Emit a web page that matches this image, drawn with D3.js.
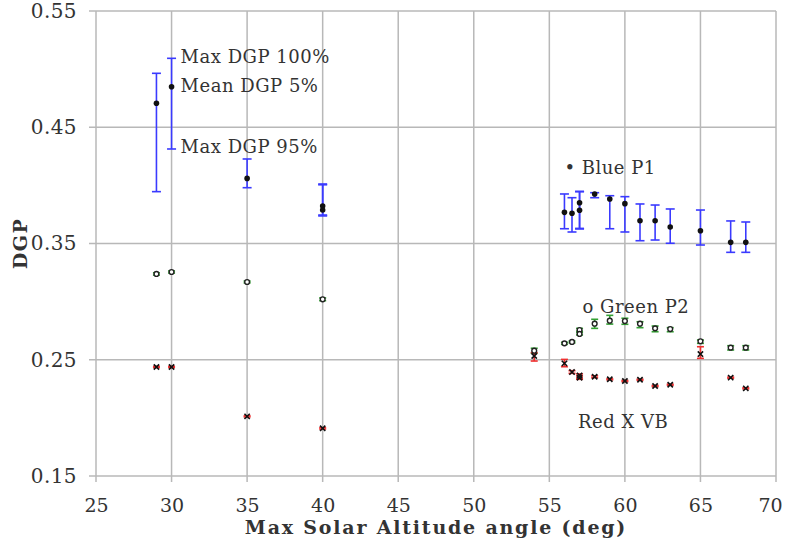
<!DOCTYPE html>
<html>
<head>
<meta charset="utf-8">
<script src="https://cdn.jsdelivr.net/npm/d3@7"></script>
<style>
  html, body { margin: 0; padding: 0; background: #fff; }
  svg { display: block; }
  text { font-family: "DejaVu Serif", serif; fill: #333; }
</style>
</head>
<body>
<svg id="chart" width="788" height="546"></svg>
<script>
// ---- data ----
const xTicks = [25, 30, 35, 40, 45, 50, 55, 60, 65, 70];
const yTicks = [0.15, 0.25, 0.35, 0.45, 0.55];

const blueX    = [29, 30, 35, 40, 40, 56, 56.5, 57, 57, 58, 59, 60, 61, 62, 63, 65, 67, 68];
const blueMean = [0.4706, 0.4849, 0.406, 0.3823, 0.3788, 0.3768, 0.376, 0.3851, 0.3786, 0.3926, 0.3883, 0.3843, 0.3696, 0.3696, 0.3642, 0.361, 0.351, 0.351];
const blueHi   = [0.4964, 0.5093, 0.4227, 0.4012, 0.4005, 0.3926, 0.3894, 0.3949, 0.3945, 0.3937, 0.3911, 0.3903, 0.384, 0.3831, 0.3797, 0.3788, 0.3694, 0.3685];
const blueLo   = [0.3946, 0.4313, 0.398, 0.3737, 0.3745, 0.3627, 0.3599, 0.3625, 0.3630, 0.3894, 0.3627, 0.3599, 0.3524, 0.353, 0.3502, 0.3487, 0.3424, 0.3424];

const greenX    = [29, 30, 35, 40, 54, 56, 56.5, 57, 57, 58, 59, 60, 61, 62, 63, 65, 67, 68];
const greenMean = [0.3238, 0.3255, 0.3169, 0.302, 0.2578, 0.2641, 0.2653, 0.2756, 0.2722, 0.281, 0.2836, 0.2833, 0.281, 0.277, 0.2764, 0.2659, 0.2604, 0.2604];
const greenHi   = [0.3248, 0.3264, 0.3177, 0.3032, 0.2599, 0.2650, 0.2661, 0.277, 0.2735, 0.2848, 0.2882, 0.2857, 0.2827, 0.279, 0.2776, 0.267, 0.2621, 0.2621];
const greenLo   = [0.3228, 0.3246, 0.3161, 0.3008, 0.2556, 0.2632, 0.2645, 0.2745, 0.2713, 0.277, 0.2807, 0.2805, 0.2776, 0.2741, 0.2741, 0.2641, 0.2584, 0.2584];

const redX    = [29, 30, 35, 40, 54, 56, 56.5, 57, 57, 58, 59, 60, 61, 62, 63, 65, 67, 68];
const redMean = [0.2438, 0.2438, 0.2013, 0.191, 0.2532, 0.2469, 0.2394, 0.2365, 0.2345, 0.2354, 0.2332, 0.2317, 0.2328, 0.2274, 0.2285, 0.2549, 0.2346, 0.2254];
const redHi   = [0.2443, 0.2443, 0.2018, 0.1916, 0.2561, 0.2503, 0.2406, 0.2378, 0.2360, 0.2362, 0.2337, 0.2322, 0.2333, 0.2279, 0.229, 0.2612, 0.2351, 0.2259];
const redLo   = [0.2433, 0.2433, 0.2008, 0.1904, 0.2489, 0.244, 0.2383, 0.2340, 0.2332, 0.2346, 0.2327, 0.2312, 0.2323, 0.2269, 0.228, 0.2512, 0.2341, 0.2249];

const annotations = [
  { text: "Max DGP 100%", x: 30.6, y: 0.5105 },
  { text: "Mean DGP 5%", x: 30.6, y: 0.4855 },
  { text: "Max DGP 95%", x: 30.6, y: 0.4330 },
  { text: "• Blue P1", x: 56.0, y: 0.4150 },
  { text: "o Green P2", x: 57.2, y: 0.2958 },
  { text: "Red X VB", x: 56.9, y: 0.1965 }
];

// ---- layout ----
const svg = d3.select("#chart");
const mLeft = 96, mRight = 776, mTop = 11, mBottom = 476;
const x = d3.scaleLinear().domain([25, 70]).range([mLeft, mRight]);
const y = d3.scaleLinear().domain([0.15, 0.55]).range([mBottom, mTop]);
const gridColor = "#b8b8b8";

// grid
svg.append("g").selectAll("line").data(xTicks).join("line")
  .attr("x1", d => x(d)).attr("x2", d => x(d))
  .attr("y1", mTop).attr("y2", mBottom + 6)
  .attr("stroke", gridColor).attr("stroke-width", 1.5);
svg.append("g").selectAll("line").data(yTicks).join("line")
  .attr("x1", mLeft - 7).attr("x2", mRight)
  .attr("y1", d => y(d)).attr("y2", d => y(d))
  .attr("stroke", gridColor).attr("stroke-width", 1.5);

// axes (labels only, using d3 axes)
const xAxis = d3.axisBottom(x).tickValues(xTicks).tickSize(0).tickPadding(23).tickFormat(d3.format("d"));
const yAxis = d3.axisLeft(y).tickValues(yTicks).tickSize(0).tickPadding(19).tickFormat(d3.format(".2f"));
const gx = svg.append("g").attr("transform", `translate(0,${mBottom})`).call(xAxis);
const gy = svg.append("g").attr("transform", `translate(${mLeft},0)`).call(yAxis);
[gx, gy].forEach(g => {
  g.select(".domain").remove();
  g.selectAll("text").attr("font-family", "DejaVu Serif").attr("font-size", 20)
    .attr("letter-spacing", 0.4).attr("fill", "#333");
});
gx.selectAll("text").attr("font-size", 19).attr("letter-spacing", 0)
  .attr("dx", d => d === 70 ? -6 : 0);

// axis titles
svg.append("text").attr("x", 436).attr("y", 534).attr("text-anchor", "middle")
  .attr("font-size", 19).attr("font-weight", "bold").attr("letter-spacing", 1.8).attr("fill", "#111")
  .text("Max Solar Altitude angle (deg)");
svg.append("text").attr("transform", `translate(27,${y(0.35)}) rotate(-90)`)
  .attr("text-anchor", "middle").attr("font-size", 19).attr("font-weight", "bold").attr("letter-spacing", 1.5).attr("fill", "#111")
  .text("DGP");

// error bars helper
function errorBars(xs, hi, lo, color, capW, sw) {
  const g = svg.append("g").attr("stroke", color).attr("stroke-width", sw);
  const idx = d3.range(xs.length);
  g.selectAll("line.v").data(idx).join("line").attr("class", "v")
    .attr("x1", i => x(xs[i])).attr("x2", i => x(xs[i]))
    .attr("y1", i => y(hi[i])).attr("y2", i => y(lo[i]));
  g.selectAll("line.t").data(idx).join("line").attr("class", "t")
    .attr("x1", i => x(xs[i]) - capW).attr("x2", i => x(xs[i]) + capW)
    .attr("y1", i => y(hi[i])).attr("y2", i => y(hi[i]));
  g.selectAll("line.b").data(idx).join("line").attr("class", "b")
    .attr("x1", i => x(xs[i]) - capW).attr("x2", i => x(xs[i]) + capW)
    .attr("y1", i => y(lo[i])).attr("y2", i => y(lo[i]));
}

errorBars(blueX, blueHi, blueLo, "#3a3aff", 4.5, 1.6);
errorBars(greenX, greenHi, greenLo, "#33a033", 3.5, 1.6);
errorBars(redX, redHi, redLo, "#ee3030", 3.5, 1.6);

// markers
const idxB = d3.range(blueX.length);
svg.append("g").selectAll("circle").data(idxB).join("circle")
  .attr("cx", i => x(blueX[i])).attr("cy", i => y(blueMean[i])).attr("r", 2.8).attr("fill", "#111");

const idxG = d3.range(greenX.length);
svg.append("g").selectAll("circle").data(idxG).join("circle")
  .attr("cx", i => x(greenX[i])).attr("cy", i => y(greenMean[i])).attr("r", 2.4)
  .attr("fill", "#fff").attr("stroke", "#222").attr("stroke-width", 1.4);

const idxR = d3.range(redX.length);
const cross = d3.symbol().type(d3.symbolX).size(20);
svg.append("g").selectAll("path").data(idxR).join("path")
  .attr("transform", i => `translate(${x(redX[i])},${y(redMean[i])})`)
  .attr("d", cross).attr("stroke", "#111").attr("stroke-width", 1.6).attr("fill", "none");

// annotations
svg.append("g").selectAll("text").data(annotations).join("text")
  .attr("x", d => x(d.x)).attr("y", d => y(d.y)).attr("dy", "0.35em")
  .attr("font-size", 18).attr("letter-spacing", 0.5).attr("fill", "#333")
  .text(d => d.text);
</script>
</body>
</html>
